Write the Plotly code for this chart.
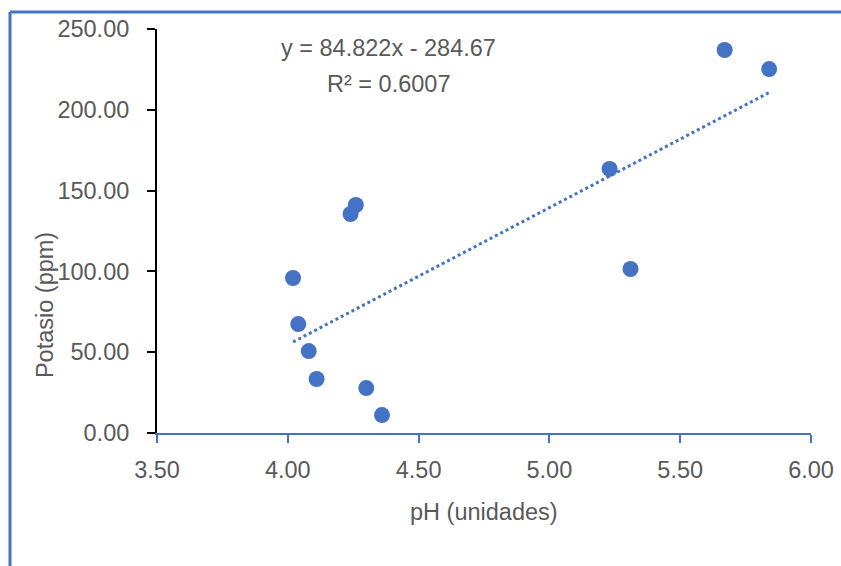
import plotly.graph_objects as go
import numpy as np

ph = [4.02, 4.04, 4.08, 4.11, 4.24, 4.26, 4.30, 4.36, 5.23, 5.31, 5.67, 5.84]
potasio = [95.9, 67.4, 50.7, 33.4, 135.5, 141.1, 27.8, 11.1, 163.4, 101.5, 237.0, 225.2]
slope = 84.822
intercept = -284.67
r2 = 0.6007

BLUE = "#4472C4"
GRAY = "#595959"
FONT = "Liberation Sans, Arial, sans-serif"
FS = 23.5

xt = np.array([min(ph), max(ph)])
yt = slope * xt + intercept

fig = go.Figure()
fig.add_trace(go.Scatter(x=list(xt), y=list(yt), mode="lines",
                         line=dict(color=BLUE, width=3, dash="dot"),
                         showlegend=False, hoverinfo="skip"))
fig.add_trace(go.Scatter(x=ph, y=potasio, mode="markers",
                         marker=dict(color=BLUE, size=16), showlegend=False,
                         cliponaxis=False))

fig.update_layout(
    width=841, height=566,
    margin=dict(l=157, r=30, t=29, b=133, autoexpand=False),
    paper_bgcolor="white", plot_bgcolor="white",
    font=dict(family=FONT, size=FS, color=GRAY),
    xaxis=dict(range=[3.5, 6.0], dtick=0.5, tick0=3.5, tickformat=".2f", automargin=False,
               showgrid=False, zeroline=False, showline=True, linecolor=BLUE, linewidth=2,
               ticks="outside", ticklen=8, tickwidth=2, tickcolor=BLUE,
               ticklabelstandoff=7, tickfont=dict(family=FONT, size=FS, color=GRAY)),
    yaxis=dict(range=[0, 250], dtick=50, tickformat=".2f", automargin=False,
               showgrid=False, zeroline=False, showline=True, linecolor="black", linewidth=2,
               ticks="outside", ticklen=8, tickwidth=2, tickcolor="black",
               ticklabelstandoff=13, tickfont=dict(family=FONT, size=FS, color=GRAY)),
    shapes=[
        dict(type="line", xref="paper", yref="paper", x0=-0.2248, x1=1.06, y0=1.042, y1=1.042,
             line=dict(color=BLUE, width=3)),
        dict(type="line", xref="paper", yref="paper", x0=-0.2248, x1=-0.2248, y0=1.042, y1=-0.35,
             line=dict(color=BLUE, width=3)),
    ],
    annotations=[
        dict(text="Potasio (ppm)", xref="paper", yref="paper", x=-0.171, y=0.317,
             textangle=-90, showarrow=False, xanchor="center", yanchor="middle",
             font=dict(family=FONT, size=FS, color=GRAY)),
        dict(text="pH (unidades)", xref="paper", yref="paper", x=0.5, y=-0.1955,
             showarrow=False, xanchor="center", yanchor="middle",
             font=dict(family=FONT, size=FS, color=GRAY)),
        dict(text=f"y = {slope}x - {abs(intercept)}", xref="paper", yref="paper", x=0.3547, y=0.953,
             showarrow=False, xanchor="center", yanchor="middle",
             font=dict(family=FONT, size=FS, color=GRAY)),
        dict(text=f"R² = {r2}", xref="paper", yref="paper", x=0.3547, y=0.864,
             showarrow=False, xanchor="center", yanchor="middle",
             font=dict(family=FONT, size=FS, color=GRAY)),
    ],
)

fig.write_html("out.html")
